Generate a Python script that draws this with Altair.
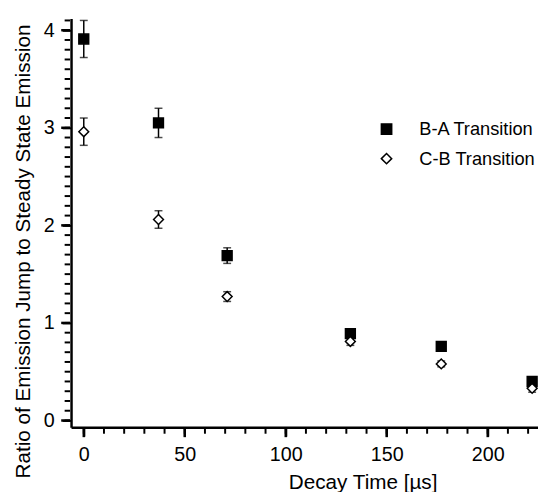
import altair as alt
import pandas as pd

# Decay time [µs]
time = [0, 37, 71, 132, 177, 222]
# B-A transition
ba = [3.91, 3.05, 1.69, 0.89, 0.76, 0.40]
ba_err = [0.19, 0.15, 0.08, 0.03, 0.02, 0.03]
# C-B transition
cb = [2.96, 2.06, 1.27, 0.81, 0.58, 0.33]
cb_err = [0.14, 0.09, 0.05, 0.04, 0.03, 0.04]

series_names = ["B-A Transition", "C-B Transition"]

x_major = [0, 50, 100, 150, 200]
x_minor = list(range(0, 230, 10))
y_major = [0, 1, 2, 3, 4]
y_minor = [round(i * 0.1, 1) for i in range(42)]

rows = []
for name, vals, errs in [(series_names[0], ba, ba_err), (series_names[1], cb, cb_err)]:
    for t, v, e in zip(time, vals, errs):
        rows.append({"time": t, "value": v, "lo": v - e, "hi": v + e, "series": name})
df = pd.DataFrame(rows)
xminor_df = pd.DataFrame({"tick": x_minor})
yminor_df = pd.DataFrame({"tick": y_minor})
xmajor_df = pd.DataFrame({"tick": x_major})
ymajor_df = pd.DataFrame({"tick": y_major})

FONT = "Liberation Sans"
W, H = 474, 415

xscale = alt.Scale(domain=[-6.3, 224.9], nice=False, zero=False)
yscale = alt.Scale(domain=[-0.07, 4.12], nice=False, zero=False)

x_axis = alt.Axis(
    orient="bottom", values=x_major, format="d", tickSize=9, tickColor="black", tickWidth=2,
    labelOverlap=False, grid=False, title="Decay Time [µs]", labelFontSize=20, titleFontSize=21,
    titleFontWeight="normal", labelPadding=9, titleX=296, titleY=56, titleBaseline="middle", titleAlign="center",
)
y_axis = alt.Axis(
    orient="left", values=y_major, format="d", tickSize=9, tickColor="black", tickWidth=2,
    labelOverlap=False, grid=False, title="Ratio of Emission Jump to Steady State Emission",
    labelFontSize=20, titleFontSize=21, titleFontWeight="normal", labelPadding=8,
    titleX=-48, titleY=236, titleBaseline="middle", titleAlign="center", titleAngle=270,
)

base = alt.Chart(df)

err = base.mark_rule(color="black", strokeWidth=1.5).encode(
    x=alt.X("time:Q", scale=xscale, axis=x_axis),
    y=alt.Y("lo:Q", scale=yscale, axis=y_axis),
    y2="hi:Q",
)
cap_lo = base.mark_tick(color="black", thickness=1.5, size=8, orient="horizontal").encode(x="time:Q", y="lo:Q")
cap_hi = base.mark_tick(color="black", thickness=1.5, size=8, orient="horizontal").encode(x="time:Q", y="hi:Q")
pts = base.mark_point(strokeWidth=1.5, opacity=1, filled=False).encode(
    x="time:Q",
    y="value:Q",
    shape=alt.Shape("series:N", scale=alt.Scale(domain=series_names, range=["square", "diamond"]), title=None),
    fill=alt.Fill("series:N", scale=alt.Scale(domain=series_names, range=["black", "white"]), title=None),
    stroke=alt.Stroke("series:N", scale=alt.Scale(domain=series_names, range=["black", "black"]), title=None),
    size=alt.value(100),
)

# outward tick marks: minor every 10 µs / 0.1, major at the labelled values
x_minor_ticks = alt.Chart(xminor_df).mark_rule(color="black", strokeWidth=2, clip=False).encode(
    x=alt.X("tick:Q"), y=alt.value(H + 1), y2=alt.value(H + 6.5),
)
y_minor_ticks = alt.Chart(yminor_df).mark_rule(color="black", strokeWidth=2, clip=False).encode(
    y=alt.Y("tick:Q"), x=alt.value(-1), x2=alt.value(-6.5),
)
x_major_ticks = alt.Chart(xmajor_df).mark_rule(color="black", strokeWidth=2.5, clip=False).encode(
    x=alt.X("tick:Q"), y=alt.value(H + 1), y2=alt.value(H + 10),
)
y_major_ticks = alt.Chart(ymajor_df).mark_rule(color="black", strokeWidth=2.5, clip=False).encode(
    y=alt.Y("tick:Q"), x=alt.value(-1), x2=alt.value(-10),
)

chart = (
    alt.layer(err, cap_lo, cap_hi, pts, x_minor_ticks, y_minor_ticks, x_major_ticks, y_major_ticks)
    .properties(
        width=W,
        height=H,
        autosize=alt.AutoSizeParams(type="none"),
        padding={"left": 64, "top": 7, "right": 0, "bottom": 62},
    )
    .configure_view(stroke=None)
    .configure_axis(
        domainColor="black", domainWidth=2.5, labelColor="black", titleColor="black",
        labelFont=FONT, titleFont=FONT, titleFontWeight="normal",
    )
    .configure_legend(
        orient="none", legendX=311, legendY=103, labelFont=FONT, labelFontSize=18.5, labelColor="black",
        symbolSize=110, symbolStrokeColor="black", symbolStrokeWidth=1.5, labelOffset=24, rowPadding=11,
    )
)

chart.save("out.html", embed_options={"renderer": "svg", "actions": False})
